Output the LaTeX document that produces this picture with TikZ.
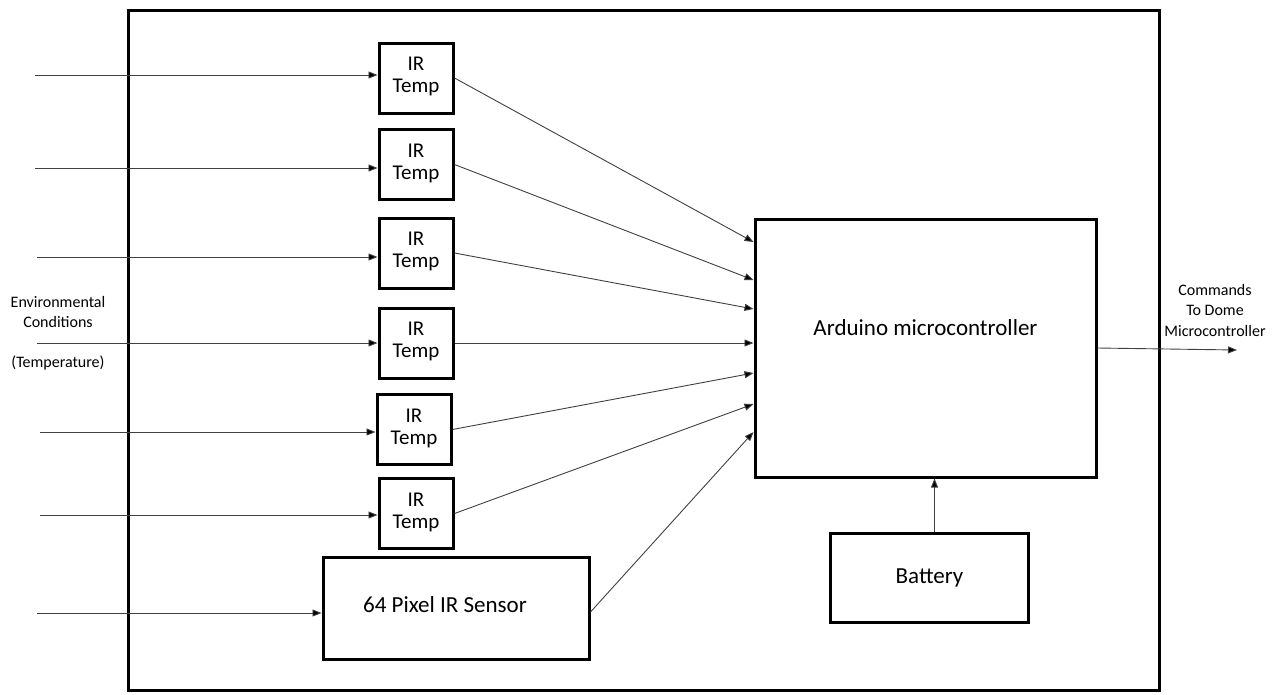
\documentclass[tikz,border=0pt]{standalone}
\usepackage{fontspec}
\setmainfont{Carlito}
\usetikzlibrary{arrows.meta,positioning}
\tikzset{
    block/.style={draw, line width=3pt, inner sep=0pt, align=center},
    irbox/.style={block, minimum width=74pt, minimum height=70pt, text depth=6pt, font=\fontsize{21}{22}\selectfont},
    bigtext/.style={font=\fontsize{23}{26}\selectfont},
    smalltext/.style={font=\fontsize{16}{20.5}\selectfont, align=center},
    link/.style={line width=0.9pt, draw=black!75, -{Triangle[length=9pt,width=7pt,fill=black]}},
}
\begin{document}
\begin{tikzpicture}[x=1pt, y=-1pt]
    \useasboundingbox (0,0) rectangle (1280,694);
    % system frame
    \draw[line width=3pt] (128,10) rectangle (1159,690);
    % main blocks
    \node[block, minimum width=341pt, minimum height=258pt,
          label={[bigtext, yshift=20pt]center:Arduino microcontroller}] (ard) at (925.5,348) {};
    \node[block, bigtext, minimum width=198pt, minimum height=89pt] (bat) at (929.5,577.5) {Battery};
    \node[block, minimum width=266pt, minimum height=102pt,
          label={[bigtext, xshift=-11pt, yshift=3pt]center:64 Pixel IR Sensor}] (px) at (456,608) {};
    % IR temperature sensors
    \foreach \n/\x/\y/\xin/\yin/\s in {1/416/78/35/75/106, 2/416/164.5/35/168/68, 3/416/253/37/257/39,
                                      4/416/343/37/343/5, 5/414/429.5/40/432/-25, 6/416/513.5/40/515/-56} {
        \node[irbox] (ir\n) at (\x,\y) {IR\\Temp};
        \coordinate (in\n) at (\xin,\yin);
        \draw[link] (in\n) -- (in\n -| ir\n.west);
        \draw[link] (ir\n.east) -- ([yshift=\s pt]ard.west);
    };
    \coordinate (inpx) at (37,613);
    \draw[link] (inpx) -- (inpx -| px.west);
    \draw[link] ([yshift=-4pt]px.east) -- ([yshift=-84pt]ard.west);
    \draw[link] ([xshift=5pt]bat.north) -- ([xshift=5pt]bat.north |- ard.south);
    % output
    \coordinate (cmd) at (1237,350);
    \draw[link] (ard.east) -- (cmd);
    \node[smalltext] (cmdlbl) at (1215,310) {Commands\\To Dome\\Microcontroller};
    \node[smalltext] (env) at (58,333) {Environmental\\Conditions\\[19pt](Temperature)};
\end{tikzpicture}
\end{document}
